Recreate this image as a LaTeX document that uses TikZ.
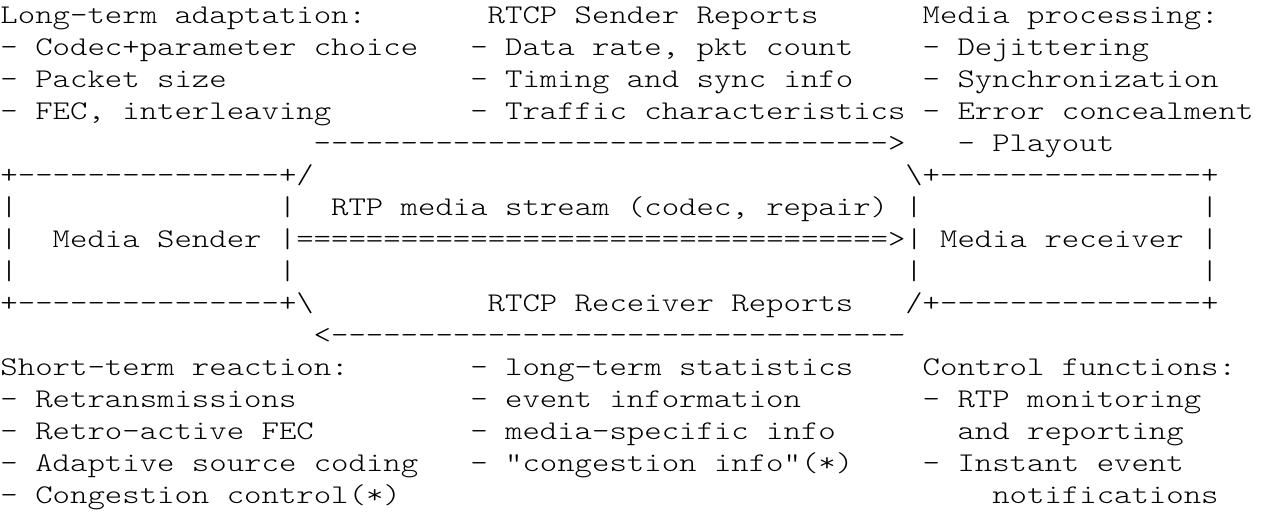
\documentclass[tikz,border=0pt]{standalone}
\usepackage{fontspec}
\setmonofont{Latin Modern Mono Light}[FakeStretch=1.228]
\newcommand{\cw}{17.4}
\tikzset{txt/.style={anchor=base west, inner sep=0pt, outer sep=0pt,
  font=\fontsize{27}{32}\selectfont\ttfamily, text=black}}
\newcommand{\seg}[4]{\node[txt] (#1) at ({0.5+#2*\cw},{513-24-(#3-1)*32}) {#4};}
\begin{document}
\begin{tikzpicture}[x=1pt,y=1pt]
\fill[white] (0,0) rectangle (1261,513);
\useasboundingbox (0,0) rectangle (1261,513);
% line 1-4
\seg{la}{0}{1}{Long-term adaptation:}
\seg{sr}{28}{1}{RTCP Sender Reports}
\seg{mp}{53}{1}{Media processing:}
\seg{la1}{0}{2}{- Codec+parameter choice}
\seg{sr1}{27}{2}{- Data rate, pkt count}
\seg{mp1}{53}{2}{- Dejittering}
\seg{la2}{0}{3}{- Packet size}
\seg{sr2}{27}{3}{- Timing and sync info}
\seg{mp2}{53}{3}{- Synchronization}
\seg{la3}{0}{4}{- FEC, interleaving}
\seg{sr3}{27}{4}{- Traffic characteristics}
\seg{mp3}{53}{4}{- Error concealment}
% line 5
\seg{arrS}{18}{5}{--------------------------------->}
\seg{mp4}{55}{5}{- Playout}
% box lines
\seg{sTop}{0}{6}{+---------------+/}
\seg{rTop}{52}{6}{\textbackslash+---------------+}
\seg{s7a}{0}{7}{|}
\seg{s7b}{16}{7}{|}
\seg{rtp}{19}{7}{RTP media stream (codec, repair)}
\seg{r7a}{52}{7}{|}
\seg{r7b}{69}{7}{|}
\seg{s8a}{0}{8}{|}
\seg{msend}{3}{8}{Media Sender}
\seg{stream}{16}{8}{|==================================>|}
\seg{mrecv}{54}{8}{Media receiver}
\seg{r8b}{69}{8}{|}
\seg{s9a}{0}{9}{|}
\seg{s9b}{16}{9}{|}
\seg{r9a}{52}{9}{|}
\seg{r9b}{69}{9}{|}
\seg{sBot}{0}{10}{+---------------+\textbackslash}
\seg{rr}{28}{10}{RTCP Receiver Reports}
\seg{rBot}{52}{10}{/+---------------+}
% line 11
\seg{arrR}{18}{11}{<---------------------------------}
% lines 12-16
\seg{st}{0}{12}{Short-term reaction:}
\seg{rr1}{27}{12}{- long-term statistics}
\seg{cf}{53}{12}{Control functions:}
\seg{st1}{0}{13}{- Retransmissions}
\seg{rr2}{27}{13}{- event information}
\seg{cf1}{53}{13}{- RTP monitoring}
\seg{st2}{0}{14}{- Retro-active FEC}
\seg{rr3}{27}{14}{- media-specific info}
\seg{cf2}{55}{14}{and reporting}
\seg{st3}{0}{15}{- Adaptive source coding}
\seg{rr4}{27}{15}{- "congestion info"(*)}
\seg{cf3}{53}{15}{- Instant event}
\seg{st4}{0}{16}{- Congestion control(*)}
\seg{cf4}{57}{16}{notifications}
\end{tikzpicture}
\end{document}
